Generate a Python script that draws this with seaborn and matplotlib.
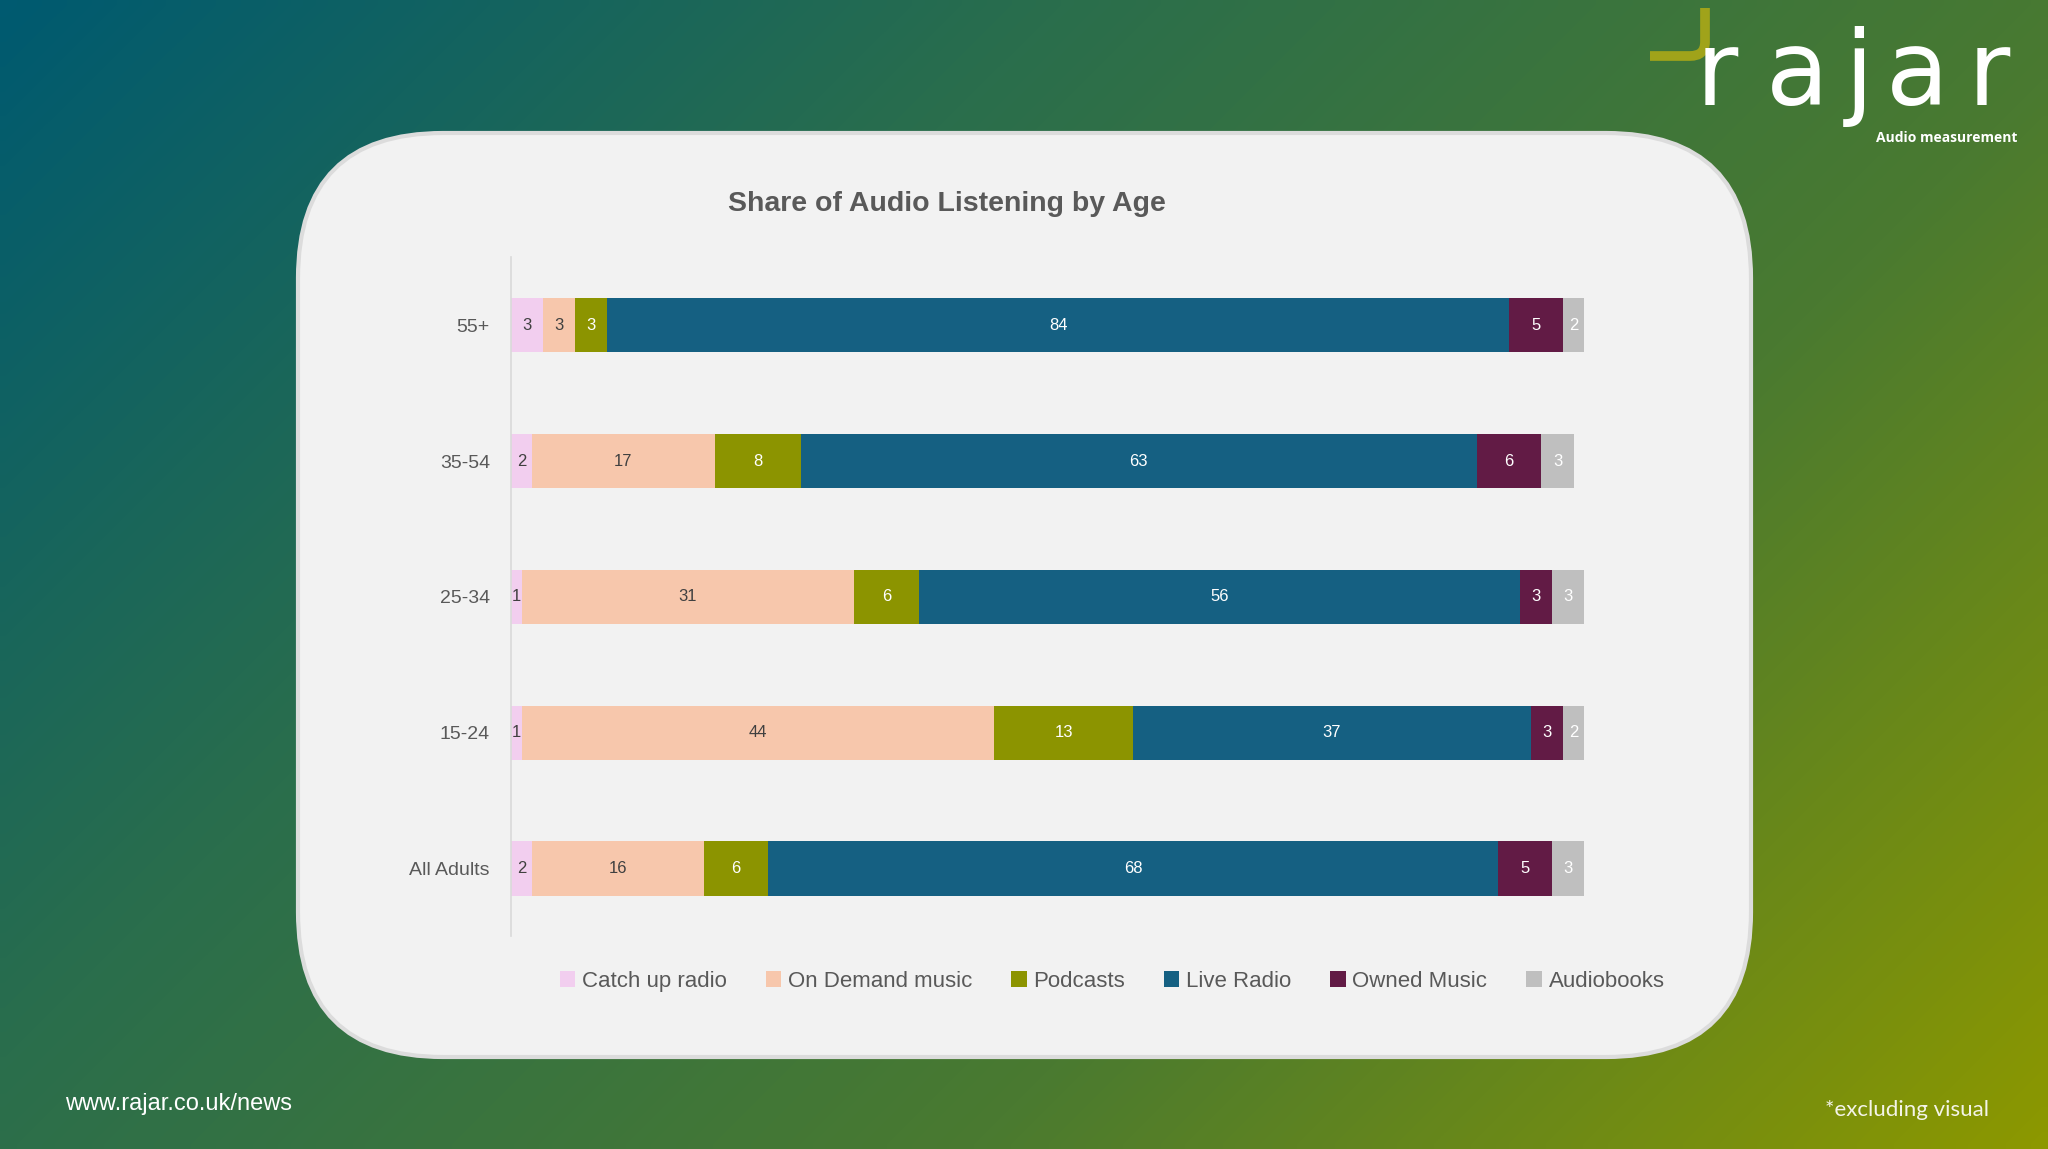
import numpy as np
import pandas as pd
import seaborn as sns
import matplotlib.pyplot as plt
from matplotlib.patches import FancyBboxPatch, Patch
from matplotlib.colors import LinearSegmentedColormap
from matplotlib.path import Path
from matplotlib.patches import PathPatch

# data (share of listening, %)
ages = ['55+', '35-54', '25-34', '15-24', 'All Adults']
series = ['Catch up radio', 'On Demand music', 'Podcasts', 'Live Radio', 'Owned Music', 'Audiobooks']
catch_up = [3, 2, 1, 1, 2]
on_demand = [3, 17, 31, 44, 16]
podcasts = [3, 8, 6, 13, 6]
live_radio = [84, 63, 56, 37, 68]
owned_music = [5, 6, 3, 3, 5]
audiobooks = [2, 3, 3, 2, 3]

colors = ['#F2CEEF', '#F7C7AC', '#8C9400', '#156082', '#621B45', '#BFBFBF']
label_colors = ['#404040', '#404040', 'white', 'white', 'white', 'white']

NARROW = ['Liberation Sans Narrow', 'Liberation Sans', 'DejaVu Sans']

sns.set_theme(style='white')
plt.rcParams['font.family'] = NARROW

fig = plt.figure(figsize=(20.48, 11.49), dpi=100)

# background: gradient + rounded panel, in pixel coordinates
bg = fig.add_axes([0, 0, 1, 1])
bg.set_xlim(0, 2048)
bg.set_ylim(1149, 0)
bg.axis('off')
W, H = 2048, 1149
xx, yy = np.meshgrid(np.linspace(0, 1, 205), np.linspace(0, 1, 115))
t = (xx * W + yy * H) / (W + H)
grad = LinearSegmentedColormap.from_list('bg', ['#005A70', '#2A6E4C', '#4A7A30', '#8C9800'])
bg.imshow(t, cmap=grad, extent=(0, W, H, 0), aspect='auto', interpolation='bilinear', zorder=0)

panel = FancyBboxPatch((298, 133), 1453, 924, boxstyle='round,pad=0,rounding_size=145',
                       facecolor='#F2F2F2', edgecolor='#DCDCDC', linewidth=3, zorder=1)
bg.add_patch(panel)

# logo
hook = Path([(1705, 8), (1705, 42), (1705, 56), (1690, 56), (1650, 56)],
            [Path.MOVETO, Path.LINETO, Path.CURVE3, Path.CURVE3, Path.LINETO])
bg.add_patch(PathPatch(hook, facecolor='none', edgecolor='#A0A31A', linewidth=7,
                       capstyle='butt', zorder=2))
for letter, lx in zip('rajar', [1696, 1766, 1845, 1886, 1968]):
    bg.text(lx, 105, letter, color='white', fontsize=74, family=['DejaVu Sans'],
            ha='left', va='baseline', zorder=2)
bg.text(2018, 138, 'Audio measurement', color='white', fontsize=10, fontweight='bold',
        family=['Open Sans', 'DejaVu Sans'], ha='right', va='center', zorder=3)

# footer
bg.text(65, 1104, 'www.rajar.co.uk/news', color='white', fontsize=17,
        family=['Liberation Sans', 'DejaVu Sans'], ha='left', va='center', zorder=2)
bg.text(1825, 1110, '*excluding visual', color='#F4F4E8', fontsize=16,
        family=['Lato', 'DejaVu Sans'], ha='left', va='center', zorder=2)

# title
bg.text(947, 204, 'Share of Audio Listening by Age', color='#595959', fontsize=20.5,
        fontweight='bold', ha='center', va='center', zorder=2)

# chart
ax = fig.add_axes([0.2494, 0.185, 0.7736 - 0.2494, 0.776 - 0.185])
ax.set_facecolor('none')

values = [catch_up, on_demand, podcasts, live_radio, owned_music, audiobooks]
df = pd.DataFrame(dict(zip(series, values)), index=ages)
cum = df.cumsum(axis=1)

# stacked by overlaying cumulative totals, widest first
for name, c in reversed(list(zip(series, colors))):
    sns.barplot(x=cum[name].values, y=ages, order=ages, color=c, saturation=1,
                width=0.4, linewidth=0, orient='h', ax=ax)

for j, name in enumerate(series):
    starts = cum[name] - df[name]
    for i, age in enumerate(ages):
        v = df.loc[age, name]
        ax.text(starts[age] + v / 2, i, f'{v}', ha='center', va='center',
                color=label_colors[j], fontsize=12)

ax.set_xlim(0, 100)
ax.set_ylim(4.5, -0.5)
ax.set_xlabel('')
ax.set_ylabel('')
ax.set_xticks([])
ax.tick_params(axis='y', length=0, pad=15, labelsize=14, labelcolor='#595959')
for s in ['top', 'right', 'bottom']:
    ax.spines[s].set_visible(False)
ax.spines['left'].set_color('#D9D9D9')
ax.spines['left'].set_linewidth(1.2)

handles = [Patch(facecolor=c, edgecolor='none', label=n) for n, c in zip(series, colors)]
fig.legend(handles=handles, loc='center', bbox_to_anchor=(0.543, 0.146), ncol=6,
           frameon=False, fontsize=16, labelcolor='#595959', handlelength=0.7,
           handleheight=0.7, handletextpad=0.3, columnspacing=1.75)

fig.savefig('out.png', dpi=100)
